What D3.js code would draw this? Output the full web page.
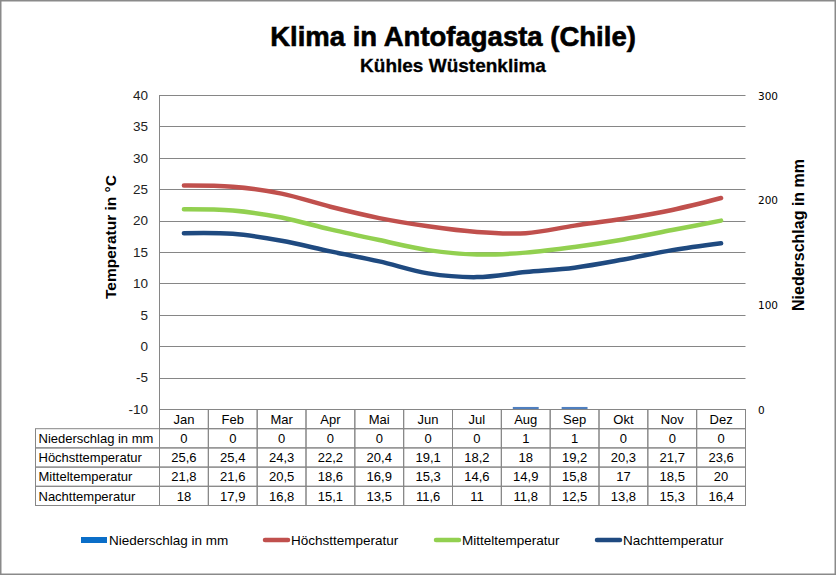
<!DOCTYPE html>
<html lang="de">
<head>
    <meta charset="UTF-8">
    <title>Klima in Antofagasta</title>
    <script src="https://d3js.org/d3.v7.min.js"></script>
</head>
<body>
    <div id="chart"></div>
</body>
<style>
    *{
        padding: 0;
        margin: 0;
    }
    body{
        background: white;
    }
    svg text{
        font-family: "Liberation Sans", Arial, sans-serif;
    }
</style>
<script>
    // data
    const months = ["Jan", "Feb", "Mar", "Apr", "Mai", "Jun", "Jul", "Aug", "Sep", "Okt", "Nov", "Dez"];
    const niederschlag = [0, 0, 0, 0, 0, 0, 0, 1, 1, 0, 0, 0];
    const hoechst = [25.6, 25.4, 24.3, 22.2, 20.4, 19.1, 18.2, 18, 19.2, 20.3, 21.7, 23.6];
    const mittel = [21.8, 21.6, 20.5, 18.6, 16.9, 15.3, 14.6, 14.9, 15.8, 17, 18.5, 20];
    const nacht = [18, 17.9, 16.8, 15.1, 13.5, 11.6, 11, 11.8, 12.5, 13.8, 15.3, 16.4];
    const tempTicks = [-10, -5, 0, 5, 10, 15, 20, 25, 30, 35, 40];
    const rainTicks = [0, 100, 200, 300];

    const w = 836, h = 575;
    const plotL = 159.5, plotR = 745.5, plotT = 95, plotB = 409;
    const rowH = 19.2;
    const grid = "#868686";

    const svg = d3.select("#chart").append("svg")
        .attr("width", w)
        .attr("height", h);

    svg.append("rect")
        .attr("x", 0.75).attr("y", 0.75)
        .attr("width", w - 1.5).attr("height", h - 1.5)
        .attr("fill", "white")
        .attr("stroke", "#8a8a8a")
        .attr("stroke-width", 1.5);

    let x = d3.scaleBand().domain(months).range([plotL, plotR]);
    let yT = d3.scaleLinear().domain([-10, 40]).range([plotB, plotT]);
    let yR = d3.scaleLinear().domain([0, 300]).range([plotB, plotT]);

    // titles
    svg.append("text")
        .attr("x", 453).attr("y", 46)
        .attr("text-anchor", "middle")
        .style("font-size", "27.5px").style("font-weight", "bold")
        .style("stroke", "black").style("stroke-width", 0.6)
        .text("Klima in Antofagasta (Chile)");
    svg.append("text")
        .attr("x", 453).attr("y", 72)
        .attr("text-anchor", "middle")
        .style("font-size", "19px").style("font-weight", "bold")
        .style("stroke", "black").style("stroke-width", 0.3)
        .text("Kühles Wüstenklima");

    // gridlines
    svg.append("g").selectAll("line")
        .data(tempTicks)
        .enter().append("line")
        .attr("x1", plotL).attr("x2", plotR)
        .attr("y1", d => Math.round(yT(d)) + 0.5)
        .attr("y2", d => Math.round(yT(d)) + 0.5)
        .attr("stroke", grid);
    svg.append("line")
        .attr("x1", plotL).attr("x2", plotL)
        .attr("y1", plotT).attr("y2", plotB)
        .attr("stroke", grid);

    // left axis labels
    svg.append("g").selectAll("text")
        .data(tempTicks)
        .enter().append("text")
        .attr("x", 148)
        .attr("y", d => yT(d))
        .attr("dy", "0.36em")
        .attr("text-anchor", "end")
        .style("font-size", "13.5px")
        .style("fill", "#222")
        .text(d => d);

    // right axis labels
    svg.append("g").selectAll("text")
        .data(rainTicks)
        .enter().append("text")
        .attr("x", 758)
        .attr("y", d => yR(d) + 1)
        .attr("dy", "0.36em")
        .style("font-size", "10.5px")
        .style("font-family", "'DejaVu Sans', sans-serif")
        .text(d => d);

    svg.append("text")
        .attr("transform", "translate(116,237) rotate(-90)")
        .attr("text-anchor", "middle")
        .style("font-size", "15.5px").style("font-weight", "bold")
        .text("Temperatur in °C");
    svg.append("text")
        .attr("transform", "translate(804,235) rotate(-90)")
        .attr("text-anchor", "middle")
        .style("font-size", "16px").style("font-weight", "bold")
        .text("Niederschlag in mm");

    // precipitation bars
    let barW = x.bandwidth() * 0.53;
    svg.append("g").selectAll("rect")
        .data(niederschlag)
        .enter().append("rect")
        .attr("x", (d, i) => x(months[i]) + (x.bandwidth() - barW) / 2)
        .attr("width", barW)
        .attr("y", d => yR(d) - 1)
        .attr("height", d => d > 0 ? plotB - yR(d) + 1 : 0)
        .attr("fill", "#4f7fbf");

    // temperature lines
    let series = [
        {values: hoechst, color: "#c0504d"},
        {values: mittel, color: "#92d050"},
        {values: nacht, color: "#1f4a80"}
    ];
    let line = d3.line()
        .x((d, i) => x(months[i]) + x.bandwidth() / 2)
        .y(d => yT(d))
        .curve(d3.curveCatmullRom.alpha(0.5));
    series.forEach(s => {
        svg.append("path")
            .datum(s.values)
            .attr("d", line)
            .attr("fill", "none")
            .attr("stroke", s.color)
            .attr("stroke-width", 4.5)
            .attr("stroke-linecap", "round");
    });

    // data table
    let fmt = v => String(v).replace(".", ",");
    let rows = [
        {label: "Niederschlag in mm", values: niederschlag},
        {label: "Höchsttemperatur", values: hoechst},
        {label: "Mitteltemperatur", values: mittel},
        {label: "Nachttemperatur", values: nacht}
    ];
    let tLeft = 35.5;
    let table = svg.append("g");

    // header row
    months.forEach(m => {
        table.append("rect")
            .attr("x", x(m)).attr("y", plotB + 0.5)
            .attr("width", x.bandwidth()).attr("height", rowH)
            .attr("fill", "none").attr("stroke", grid);
        table.append("text")
            .attr("x", x(m) + x.bandwidth() / 2)
            .attr("y", plotB + rowH / 2 + 0.5)
            .attr("dy", "0.36em")
            .attr("text-anchor", "middle")
            .style("font-size", "13px")
            .text(m);
    });

    rows.forEach((r, j) => {
        let ry = plotB + 0.5 + rowH * (j + 1);
        table.append("rect")
            .attr("x", tLeft).attr("y", ry)
            .attr("width", plotL - tLeft).attr("height", rowH)
            .attr("fill", "none").attr("stroke", grid);
        table.append("text")
            .attr("x", tLeft + 3)
            .attr("y", ry + rowH / 2)
            .attr("dy", "0.36em")
            .style("font-size", "13px")
            .text(r.label);
        r.values.forEach((v, i) => {
            table.append("rect")
                .attr("x", x(months[i])).attr("y", ry)
                .attr("width", x.bandwidth()).attr("height", rowH)
                .attr("fill", "none").attr("stroke", grid);
            table.append("text")
                .attr("x", x(months[i]) + x.bandwidth() / 2)
                .attr("y", ry + rowH / 2)
                .attr("dy", "0.36em")
                .attr("text-anchor", "middle")
                .style("font-size", "13px")
                .text(fmt(v));
        });
    });

    // legend
    let legend = [
        {label: "Niederschlag in mm", color: "#0a6ec8", x: 81, bar: true},
        {label: "Höchsttemperatur", color: "#c0504d", x: 263},
        {label: "Mitteltemperatur", color: "#92d050", x: 434},
        {label: "Nachttemperatur", color: "#1f4a80", x: 595}
    ];
    let ly = 540;
    legend.forEach(l => {
        if (l.bar) {
            svg.append("rect")
                .attr("x", l.x).attr("y", ly - 3)
                .attr("width", 26).attr("height", 6)
                .attr("fill", l.color);
        } else {
            svg.append("line")
                .attr("x1", l.x + 2).attr("x2", l.x + 25)
                .attr("y1", ly).attr("y2", ly)
                .attr("stroke", l.color)
                .attr("stroke-width", 4.5)
                .attr("stroke-linecap", "round");
        }
        svg.append("text")
            .attr("x", l.x + 28)
            .attr("y", ly)
            .attr("dy", "0.36em")
            .style("font-size", "13.5px")
            .text(l.label);
    });
</script>
</html>
